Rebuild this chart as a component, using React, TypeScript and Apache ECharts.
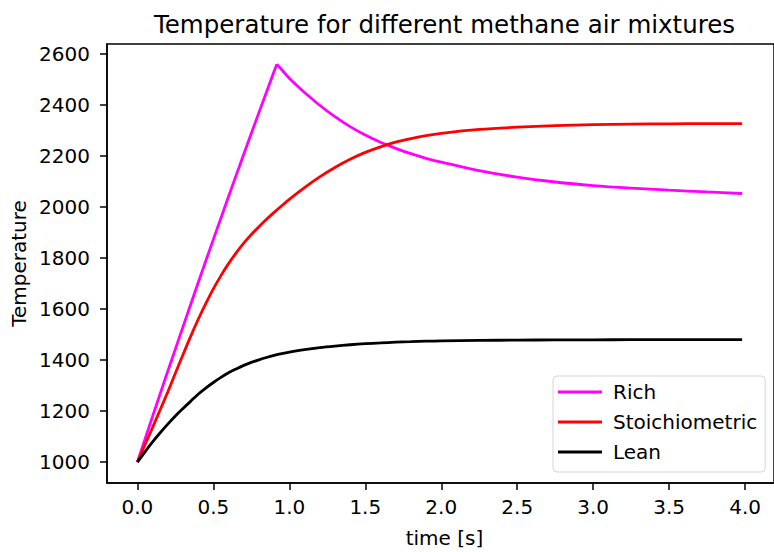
import React, { useEffect, useRef } from "react";
import * as echarts from "echarts";

// Shared time grid for the stoichiometric and lean runs [s]
const timeS = [
  0, 0.05, 0.1, 0.15, 0.2, 0.25, 0.3, 0.35, 0.4, 0.45, 0.5, 0.55, 0.6, 0.65, 0.7, 0.75, 0.8, 0.85, 0.9, 0.95, 1.0,
  1.1, 1.2, 1.3, 1.4, 1.5, 1.6, 1.7, 1.8, 1.9, 2.0,
  2.25, 2.5, 2.75, 3.0, 3.25, 3.5, 3.75, 3.98,
];

const stoichTemp = [
  1000, 1068, 1136, 1205, 1275, 1348, 1421, 1492, 1559, 1621, 1679, 1731, 1778, 1820, 1858, 1892, 1923, 1952, 1979, 2005, 2030,
  2076, 2118, 2155, 2187, 2214, 2236, 2254, 2268, 2280, 2289,
  2304, 2313, 2319, 2323, 2325, 2326, 2327, 2327,
];

const leanTemp = [
  1000, 1040, 1079, 1115, 1149, 1181, 1210, 1238, 1266, 1290, 1312, 1332, 1350, 1365, 1379, 1391, 1401, 1410, 1418, 1425, 1431,
  1441, 1449, 1455, 1460, 1464, 1467, 1470, 1472, 1474, 1475,
  1477, 1478, 1479, 1479, 1480, 1480, 1480, 1480,
];

// Rich mixture: heating ramp up to the peak, then relaxation
const richRampTime = [0, 0.05, 0.1, 0.15, 0.2, 0.25, 0.3, 0.35, 0.4, 0.45, 0.5, 0.55, 0.6, 0.65, 0.7, 0.75, 0.8, 0.85, 0.9, 0.918];
const richRampTemp = [1000, 1090, 1179, 1268, 1356, 1443, 1530, 1617, 1703, 1788, 1873, 1957, 2041, 2124, 2207, 2289, 2370, 2451, 2532, 2560];

const richDecayTime = [0.918, 0.95, 1.0, 1.05, 1.1, 1.2, 1.3, 1.4, 1.5, 1.6, 1.7, 1.8, 1.9, 2.0, 2.25, 2.5, 2.75, 3.0, 3.25, 3.5, 3.75, 3.98];
const richDecayTemp = [2560, 2538, 2505, 2476, 2449, 2399, 2354, 2315, 2282, 2254, 2230, 2209, 2191, 2176, 2143, 2117, 2098, 2084, 2074, 2066, 2059, 2053];

const xTicks = [0, 0.5, 1.0, 1.5, 2.0, 2.5, 3.0, 3.5, 4.0];
const yTicks = [1000, 1200, 1400, 1600, 1800, 2000, 2200, 2400, 2600];

const FONT = "DejaVu Sans";
const FS = 20;

const RICH = "#ff00ff";
const STOICH = "#ff0000";
const LEAN = "#000000";

export default function App() {
  const ref = useRef<HTMLDivElement>(null);

  useEffect(() => {
    if (!ref.current) return;
    const chart = echarts.init(ref.current, undefined, { renderer: "svg" });

    const pairs = (ts: number[], vs: number[]) => ts.map((t, i) => [t, vs[i]]);
    const curve = (name: string, color: string, data: number[][], smooth: number | boolean) => ({
      name,
      type: "line",
      data,
      showSymbol: false,
      symbol: "none",
      smooth,
      color,
      lineStyle: { color, width: 2.8 },
    });

    chart.setOption({
      animation: false,
      backgroundColor: "#ffffff",
      textStyle: { fontFamily: FONT },
      grid: {
        left: 107,
        top: 44,
        right: -8,
        bottom: 69,
        show: true,
        borderColor: "#000000",
        borderWidth: 1.5,
        backgroundColor: "transparent",
      },
      xAxis: {
        type: "value",
        min: -0.2,
        max: 4.19,
        axisLine: { show: true, onZero: false, lineStyle: { color: "#000000", width: 1.5 } },
        axisTick: { show: true, customValues: xTicks, length: 7, lineStyle: { color: "#000000", width: 1.5 } },
        axisLabel: {
          customValues: xTicks,
          formatter: (v: number) => v.toFixed(1),
          color: "#000000",
          fontSize: FS,
          fontFamily: FONT,
          margin: 14,
        },
        splitLine: { show: false },
      },
      yAxis: {
        type: "value",
        min: 918,
        max: 2639,
        axisLine: { show: true, onZero: false, lineStyle: { color: "#000000", width: 1.5 } },
        axisTick: { show: true, customValues: yTicks, length: 7, lineStyle: { color: "#000000", width: 1.5 } },
        axisLabel: {
          customValues: yTicks,
          formatter: (v: number) => String(v),
          color: "#000000",
          fontSize: FS,
          fontFamily: FONT,
          margin: 17,
        },
        splitLine: { show: false },
      },
      legend: {
        orient: "vertical",
        left: 553,
        top: 376,
        padding: [6, 8, 10, 5],
        itemWidth: 44,
        itemHeight: 3,
        itemGap: 10,
        icon: "rect",
        backgroundColor: "rgba(255,255,255,0.8)",
        borderColor: "#d5d5d5",
        borderWidth: 1,
        borderRadius: 4,
        textStyle: { fontSize: FS, fontFamily: FONT, color: "#000000", lineHeight: 20, padding: [0, 0, 0, 6] },
        data: ["Rich", "Stoichiometric", "Lean"],
      },
      series: [
        curve("Rich", RICH, pairs(richRampTime, richRampTemp), false),
        curve("Rich", RICH, pairs(richDecayTime, richDecayTemp), 0.3),
        curve("Stoichiometric", STOICH, pairs(timeS, stoichTemp), 0.3),
        curve("Lean", LEAN, pairs(timeS, leanTemp), 0.3),
      ],
      graphic: [
        {
          type: "text",
          x: 444.5,
          y: 24,
          style: {
            text: "Temperature for different methane air mixtures",
            font: `24.5px '${FONT}'`,
            fill: "#000000",
            textAlign: "center",
            textVerticalAlign: "middle",
          },
        },
        {
          type: "text",
          x: 444.5,
          y: 538,
          style: {
            text: "time [s]",
            font: `${FS}px '${FONT}'`,
            fill: "#000000",
            textAlign: "center",
            textVerticalAlign: "middle",
          },
        },
        {
          type: "text",
          x: 19,
          y: 263.5,
          rotation: Math.PI / 2,
          style: {
            text: "Temperature",
            font: `${FS}px '${FONT}'`,
            fill: "#000000",
            textAlign: "center",
            textVerticalAlign: "middle",
          },
        },
      ],
    });

    return () => chart.dispose();
  }, []);

  return (
    <div
      ref={ref}
      style={{ position: "fixed", left: 0, top: 0, width: 774, height: 552, background: "#ffffff" }}
    />
  );
}
